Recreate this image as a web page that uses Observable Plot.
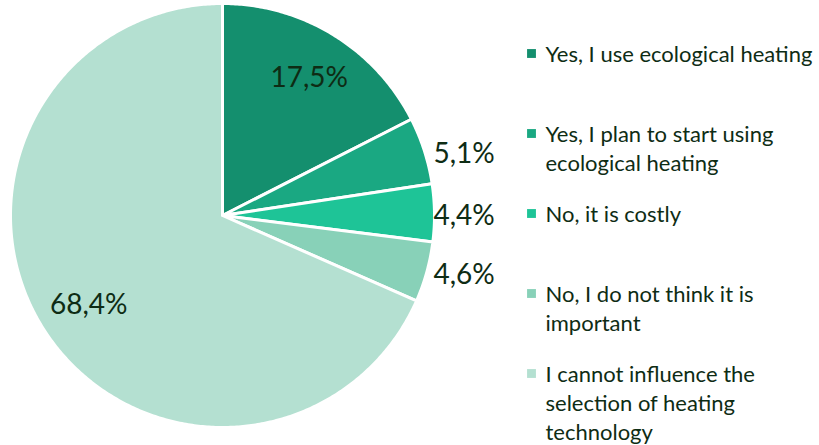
<!DOCTYPE html>
<html>
<head>
<meta charset="utf-8">
<script src="https://cdn.jsdelivr.net/npm/d3@7"></script>
<script src="https://cdn.jsdelivr.net/npm/@observablehq/plot@0.6"></script>
<style>
  html, body { margin: 0; padding: 0; background: #fff; }
  #chart { width: 819px; height: 445px; }
</style>
</head>
<body>
<div id="chart"></div>
<script>
// ---- data ----
const categories = [
  "Yes, I use ecological heating",
  "Yes, I plan to start using ecological heating",
  "No, it is costly",
  "No, I do not think it is important",
  "I cannot influence the selection of heating technology"
];
const legendLines = [
  "Yes, I use ecological heating",
  "Yes, I plan to start using\necological heating",
  "No, it is costly",
  "No, I do not think it is\nimportant",
  "I cannot influence the\nselection of heating\ntechnology"
];
const values = [17.5, 5.1, 4.4, 4.6, 68.4];
const valueLabels = ["17,5%", "5,1%", "4,4%", "4,6%", "68,4%"];
const colors = ["#148f6e", "#1aa882", "#1ec497", "#88d1b8", "#b4e0d1"];
const outside = [false, true, true, true, false];

// ---- layout ----
const W = 819, H = 445;
const cx = 222, cy = 215, R = 212;
const textColor = "#0e2c14";
const font = "Lato, 'Open Sans', sans-serif";

const arcs = d3.pie().sort(null).value(d => d)(values);

// slice polygons in the x/y plane
const slicePts = [];
arcs.forEach((a, i) => {
  const cat = categories[i];
  slicePts.push({cat, x: cx, y: cy});
  const n = Math.max(4, Math.ceil((a.endAngle - a.startAngle) / 0.01));
  for (let k = 0; k <= n; k++) {
    const t = a.startAngle + (a.endAngle - a.startAngle) * k / n;
    slicePts.push({cat, x: cx + R * Math.sin(t), y: cy - R * Math.cos(t)});
  }
  slicePts.push({cat, x: cx, y: cy});
});

const labelData = arcs.map((a, i) => {
  const mid = (a.startAngle + a.endAngle) / 2;
  if (outside[i]) {
    return {text: valueLabels[i], x: cx + R - 1, y: cy - R * Math.cos(mid) + 3, anchor: "start"};
  }
  const r = 0.765 * R;
  return {text: valueLabels[i], x: cx + r * Math.sin(mid) + 2, y: cy - r * Math.cos(mid) + 1, anchor: "middle"};
});

const legX = 531, legY0 = 53, legStep = 80;
const legendData = categories.map((c, i) => ({cat: c, text: legendLines[i], x: legX, y: legY0 + i * legStep}));

const chart = Plot.plot({
  width: W,
  height: H,
  margin: 0,
  style: {fontFamily: font, background: "#fff"},
  x: {domain: [0, W], range: [0, W], axis: null},
  y: {domain: [0, H], range: [0, H], axis: null},
  color: {domain: categories, range: colors},
  marks: [
    Plot.line(slicePts, {x: "x", y: "y", z: "cat", fill: "cat", stroke: "#fff", strokeWidth: 3, strokeLinejoin: "round", curve: "linear"}),
    Plot.text(labelData.filter(d => d.anchor === "middle"), {x: "x", y: "y", text: "text", textAnchor: "middle", fontSize: 28, fill: textColor}),
    Plot.text(labelData.filter(d => d.anchor === "start"), {x: "x", y: "y", text: "text", textAnchor: "start", fontSize: 28, fill: textColor}),
    Plot.dot(legendData, {x: "x", y: "y", fill: "cat", symbol: "square", r: 5}),
    Plot.text(legendData, {x: d => d.x + 14, y: d => d.y - 12, text: "text", textAnchor: "start", lineAnchor: "top", lineHeight: 1.32, fontSize: 22, fill: textColor})
  ]
});
document.getElementById("chart").appendChild(chart);
</script>
</body>
</html>
